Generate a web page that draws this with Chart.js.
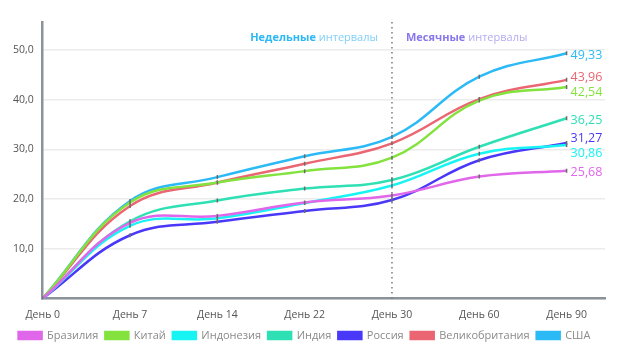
<!DOCTYPE html>
<html>
<head>
<meta charset="utf-8">
<script src="https://cdn.jsdelivr.net/npm/chart.js@4"></script>
<style>
  html, body { margin: 0; padding: 0; background: #fff; }
  #wrap { width: 640px; height: 358px; position: relative; }
</style>
</head>
<body>
<div id="wrap"><canvas id="chart"></canvas></div>
<script>
const days = ['День 0', 'День 7', 'День 14', 'День 22', 'День 30', 'День 60', 'День 90'];

const brazil = [0, 15.2, 16.6, 19.3, 20.7, 24.5, 25.68];
const china = [0, 19.3, 23.3, 25.6, 28.3, 39.8, 42.54];
const indonesia = [0, 14.6, 16.1, 19.2, 22.7, 29.1, 30.86];
const india = [0, 15.5, 19.7, 22.1, 23.8, 30.5, 36.25];
const russia = [0, 12.7, 15.4, 17.6, 19.8, 27.8, 31.27];
const uk = [0, 18.6, 23.3, 27.1, 31.2, 40.1, 43.96];
const usa = [0, 19.6, 24.4, 28.6, 32.5, 44.6, 49.33];

const series = [
  { name: 'Бразилия', values: brazil, color: '#e066ea' },
  { name: 'Китай', values: china, color: '#84e23e' },
  { name: 'Индонезия', values: indonesia, color: '#18f4f4' },
  { name: 'Индия', values: india, color: '#2ee0b4' },
  { name: 'Россия', values: russia, color: '#4a38f8' },
  { name: 'Великобритания', values: uk, color: '#ea6672' },
  { name: 'США', values: usa, color: '#2cbaf6' }
];

const FONT = '"Open Sans", "DejaVu Sans", sans-serif';
const fmt = v => v.toFixed(2).replace('.', ',');

// dotted line at day 30 + header texts
const intervals = {
  id: 'intervals',
  beforeDatasetsDraw(chart) {
    const { ctx, chartArea, scales } = chart;
    const x = scales.x.getPixelForValue(4);
    ctx.save();
    ctx.strokeStyle = '#7a7a7a';
    ctx.lineWidth = 1.5;
    ctx.setLineDash([1.5, 3.5]);
    ctx.beginPath();
    ctx.moveTo(x, chartArea.top);
    ctx.lineTo(x, chartArea.bottom);
    ctx.stroke();
    ctx.setLineDash([]);

    const y = chartArea.top + 16;
    ctx.textBaseline = 'middle';
    ctx.font = '11px ' + FONT;
    const w1 = ctx.measureText(' интервалы').width;
    ctx.textAlign = 'right';
    ctx.fillStyle = '#7fd0f8';
    ctx.fillText(' интервалы', x - 14, y);
    ctx.font = 'bold 11px ' + FONT;
    ctx.fillStyle = '#2cb8f6';
    ctx.fillText('Недельные', x - 14 - w1, y);

    ctx.textAlign = 'left';
    ctx.fillStyle = '#8878ec';
    ctx.fillText('Месячные', x + 14, y);
    const w2 = ctx.measureText('Месячные').width;
    ctx.font = '11px ' + FONT;
    ctx.fillStyle = '#b4acf2';
    ctx.fillText(' интервалы', x + 14 + w2, y);
    ctx.restore();
  }
};

// final values at the right end of each line
const endLabels = {
  id: 'endLabels',
  afterDatasetsDraw(chart) {
    const { ctx, scales } = chart;
    const items = series.map(s => {
      const last = s.values[s.values.length - 1];
      return { text: fmt(last), color: s.color, y: scales.y.getPixelForValue(last) + 2, x: scales.x.getPixelForValue(s.values.length - 1) };
    }).sort((a, b) => a.y - b.y);
    const gap = 15;
    for (let i = 1; i < items.length; i++) {
      const a = items[i - 1], b = items[i];
      if (b.y - a.y < gap) {
        const mid = (a.y + b.y) / 2;
        a.y = mid - gap / 2;
        b.y = mid + gap / 2;
      }
    }
    ctx.save();
    ctx.font = '12.5px ' + FONT;
    ctx.textAlign = 'left';
    ctx.textBaseline = 'middle';
    items.forEach(it => {
      ctx.fillStyle = it.color;
      ctx.fillText(it.text, it.x + 4, it.y);
    });
    ctx.restore();
  }
};

new Chart(document.getElementById('chart'), {
  type: 'line',
  data: {
    datasets: series.map(s => ({
      label: s.name,
      data: s.values.map((v, i) => ({ x: i, y: v })),
      borderColor: s.color,
      backgroundColor: s.color,
      borderWidth: 2.5,
      tension: 0.4,
      pointStyle: 'line',
      rotation: 90,
      pointRadius: 2,
      pointBorderColor: '#6a6a6a',
      pointBorderWidth: 1.5
    }))
  },
  options: {
    responsive: true,
    maintainAspectRatio: false,
    animation: false,
    layout: {
      padding: { top: 22, right: 35, left: 4, bottom: 7 }
    },
    plugins: {
      legend: {
        position: 'bottom',
        labels: {
          boxWidth: 23,
          boxHeight: 7,
          padding: 7,
          color: '#8a8a8a',
          font: { family: FONT, size: 11 }
        }
      },
      tooltip: { enabled: false }
    },
    scales: {
      x: {
        type: 'linear',
        min: 0,
        max: 6.44,
        grid: { display: false },
        border: { color: '#8b9298', width: 2.5 },
        ticks: {
          stepSize: 1,
          includeBounds: false,
          autoSkip: false,
          maxRotation: 0,
          padding: 2,
          color: '#555',
          font: { family: FONT, size: 10.5 },
          callback: v => days[v] ?? ''
        }
      },
      y: {
        min: 0,
        max: 55.6,
        grid: { color: '#ececec', lineWidth: 1.5, drawTicks: false },
        border: { color: '#8b9298', width: 2.5 },
        ticks: {
          stepSize: 10,
          includeBounds: false,
          padding: 9,
          color: '#555',
          font: { family: FONT, size: 10.5 },
          callback: v => v === 0 ? '' : v.toFixed(1).replace('.', ',')
        }
      }
    }
  },
  plugins: [intervals, endLabels]
});
</script>
</body>
</html>
